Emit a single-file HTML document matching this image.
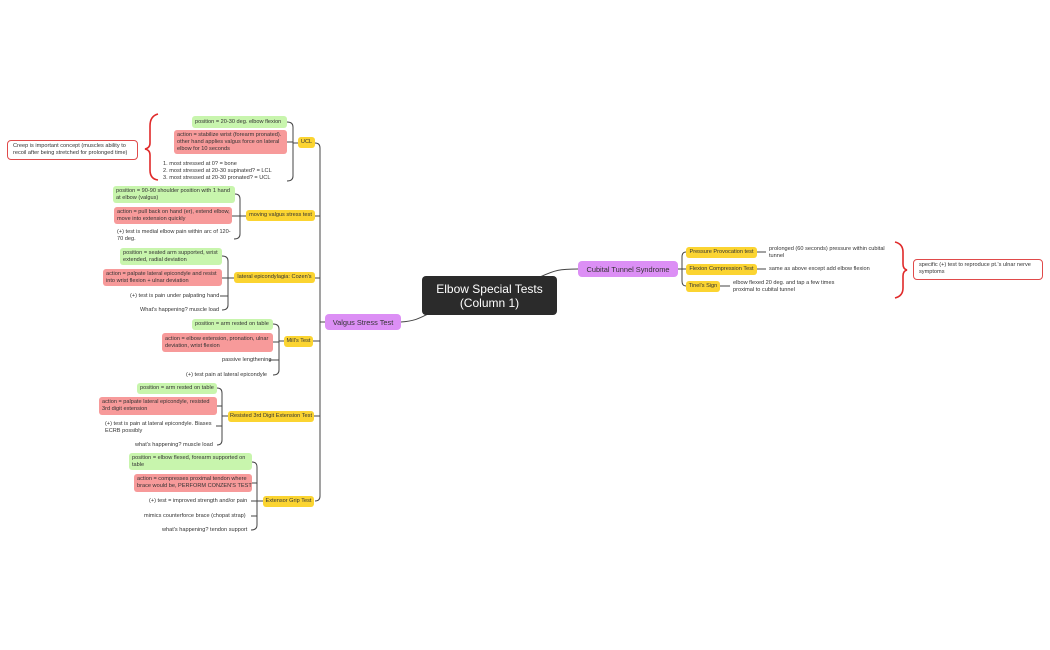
<!DOCTYPE html>
<html><head><meta charset="utf-8"><style>
body{margin:0;width:1050px;height:650px;background:#fff;position:relative;overflow:hidden;font-family:"Liberation Sans",sans-serif;color:#333}
.b{position:absolute;box-sizing:border-box;font-size:5.6px;line-height:7px;border-radius:3px;padding:1px 3px;display:flex;align-items:center;white-space:nowrap}
.g{background:#c8f5ad}.r{background:#f79a9a}.y{background:#fbd431;justify-content:center}
.p{background:#dc8ff5;font-size:7.4px;justify-content:center;border-radius:4px;color:#333}
.t{position:absolute;font-size:5.6px;line-height:7px;white-space:nowrap;color:#333}
.s{position:absolute;box-sizing:border-box;border:1.3px solid #e04a4a;border-radius:4px;font-size:5.6px;line-height:7px;padding:2px 5px;background:#fff}
svg{position:absolute;left:0;top:0}
</style></head><body>
<svg width="1050" height="650" fill="none" stroke="#444" stroke-width="1">
<!-- central connectors -->
<path d="M401 322 C415 321 420 318 428 314"/>
<path d="M540 277 C555 270 560 269 578 269"/>
<!-- trunk -->
<path d="M325 322 H320"/>
<path d="M315 143 Q320 143 320 148 V496 Q320 501 315 501"/>
<path d="M315 216 H320 M315 278 H320 M313 341 H320 M314 416 H320"/>
<!-- UCL bracket -->
<path d="M298 143 H293"/>
<path d="M287 122 Q293 122 293 127 V176 Q293 181 287 181 M287 142 H293"/>
<!-- moving valgus -->
<path d="M246 216 H240"/>
<path d="M235 194 Q240 194 240 199 V234 Q240 239 234 239 M232 216 H240"/>
<!-- lateral -->
<path d="M234 278 H228"/>
<path d="M222 256 Q228 256 228 261 V305 Q228 310 222 310 M222 278 H228 M220 296 H228"/>
<!-- mills -->
<path d="M284 341 H279"/>
<path d="M273 324 Q279 324 279 329 V370 Q279 375 273 375 M273 342 H279 M269 360 H279"/>
<!-- resisted -->
<path d="M228 416 H222"/>
<path d="M217 388 Q222 388 222 393 V440 Q222 445 217 445 M217 406 H222 M216 426 H222"/>
<!-- extensor -->
<path d="M263 501 H257"/>
<path d="M252 462 Q257 462 257 467 V525 Q257 530 251 530 M252 483 H257 M251 501 H257 M251 516 H257"/>
<!-- cubital -->
<path d="M678 269 H682"/>
<path d="M686 252 Q682 252 682 257 V281 Q682 286 686 286 M682 269 H686"/>
<path d="M757 252 H766 M757 269 H766 M720 286 H730"/>
<!-- red brackets -->
<path stroke="#e02a2a" stroke-width="1.6" d="M895 242 Q903 244 903 252 V264 Q903 269 907 270 Q903 271 903 276 V288 Q903 296 895 298"/>
<path stroke="#e02a2a" stroke-width="1.6" d="M158 114 Q150 116 150 126 V143 Q150 148 145 149 Q150 150 150 155 V170 Q150 179 158 180"/>
</svg>

<div class="b" style="left:422px;top:276px;width:135px;height:39px;background:#2b2b2b;color:#fff;font-size:12px;line-height:14px;justify-content:center;text-align:center;white-space:normal;border-radius:4px">Elbow Special Tests (Column 1)</div>
<div class="b p" style="left:325px;top:314px;width:76px;height:16px">Valgus Stress Test</div>
<div class="b p" style="left:578px;top:261px;width:100px;height:16px">Cubital Tunnel Syndrome</div>

<div class="b y" style="left:686px;top:247px;width:71px;height:11px">Pressure Provocation test</div>
<div class="b y" style="left:686px;top:264px;width:71px;height:11px">Flexion Compression Test</div>
<div class="b y" style="left:686px;top:281px;width:34px;height:11px">Tinel's Sign</div>
<div class="t" style="left:769px;top:246px">prolonged (60 seconds) pressure within cubital<br>tunnel</div>
<div class="t" style="left:769px;top:266px">same as above except add elbow flexion</div>
<div class="t" style="left:733px;top:280px">elbow flexed 20 deg. and tap a few times<br>proximal to cubital tunnel</div>
<div class="s" style="left:913px;top:259px;width:130px;height:21px">specific (+) test to reproduce pt.'s ulnar nerve<br>symptoms</div>

<div class="s" style="left:7px;top:140px;width:131px;height:20px;padding-top:2px">Creep is important concept (muscles ability to<br>recoil after being stretched for prolonged time)</div>

<div class="b y" style="left:298px;top:137px;width:17px;height:11px">UCL</div>
<div class="b g" style="left:192px;top:116px;width:95px;height:12px">position = 20-30 deg. elbow flexion</div>
<div class="b r" style="left:174px;top:130px;width:113px;height:24px">action = stabilize wrist (forearm pronated).<br>other hand applies valgus force on lateral<br>elbow for 10 seconds</div>
<div class="t" style="left:163px;top:161px">1. most stressed at 0? = bone<br>2. most stressed at 20-30 supinated? = LCL<br>3. most stressed at 20-30 pronated? = UCL</div>

<div class="b y" style="left:246px;top:210px;width:69px;height:11px">moving valgus stress test</div>
<div class="b g" style="left:113px;top:186px;width:122px;height:17px">position = 90-90 shoulder position with 1 hand<br>at elbow (valgus)</div>
<div class="b r" style="left:114px;top:207px;width:118px;height:17px">action = pull back on hand (er), extend elbow,<br>move into extension quickly</div>
<div class="t" style="left:117px;top:229px">(+) test is medial elbow pain within arc of 120-<br>70 deg.</div>

<div class="b y" style="left:234px;top:272px;width:81px;height:11px">lateral epicondylagia: Cozen's</div>
<div class="b g" style="left:120px;top:248px;width:102px;height:17px">position = seated arm supported, wrist<br>extended, radial deviation</div>
<div class="b r" style="left:103px;top:269px;width:119px;height:17px">action = palpate lateral epicondyle and resist<br>into wrist flexion + ulnar deviation</div>
<div class="t" style="left:130px;top:293px">(+) test is pain under palpating hand</div>
<div class="t" style="left:140px;top:307px">What's happening? muscle load</div>

<div class="b y" style="left:284px;top:336px;width:29px;height:11px">Mill's Test</div>
<div class="b g" style="left:192px;top:319px;width:81px;height:11px">position = arm rested on table</div>
<div class="b r" style="left:162px;top:333px;width:111px;height:19px">action = elbow extension, pronation, ulnar<br>deviation, wrist flexion</div>
<div class="t" style="left:222px;top:357px">passive lengthening</div>
<div class="t" style="left:186px;top:372px">(+) test pain at lateral epicondyle</div>

<div class="b y" style="left:228px;top:411px;width:86px;height:11px">Resisted 3rd Digit Extension Test</div>
<div class="b g" style="left:137px;top:383px;width:80px;height:11px">position = arm rested on table</div>
<div class="b r" style="left:99px;top:397px;width:118px;height:18px">action = palpate lateral epicondyle, resisted<br>3rd digit extension</div>
<div class="t" style="left:105px;top:421px">(+) test is pain at lateral epicondyle. Biases<br>ECRB possibly</div>
<div class="t" style="left:135px;top:442px">what's happening? muscle load</div>

<div class="b y" style="left:263px;top:496px;width:51px;height:11px">Extensor Grip Test</div>
<div class="b g" style="left:129px;top:453px;width:123px;height:17px">position = elbow flexed, forearm supported on<br>table</div>
<div class="b r" style="left:134px;top:474px;width:118px;height:18px">action = compresses proximal tendon where<br>brace would be, PERFORM CONZEN'S TEST</div>
<div class="t" style="left:149px;top:498px">(+) test = improved strength and/or pain</div>
<div class="t" style="left:144px;top:513px">mimics counterforce brace (chopat strap)</div>
<div class="t" style="left:162px;top:527px">what's happening? tendon support</div>
</body></html>
